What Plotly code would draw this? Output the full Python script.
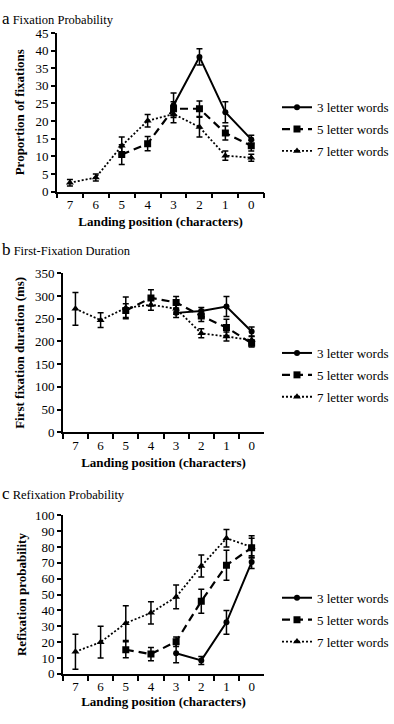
import plotly.graph_objects as go

# ---------------- data ----------------
categories = ["7", "6", "5", "4", "3", "2", "1", "0"]
series_names = ["3 letter words", "5 letter words", "7 letter words"]

x3 = ["3", "2", "1", "0"]
x5 = ["5", "4", "3", "2", "1", "0"]
x7 = ["7", "6", "5", "4", "3", "2", "1", "0"]

# Panel a: Fixation probability (%)
fix_3 = [24.5, 38.2, 22.5, 14.8]
fix_3_err = [3.5, 2.3, 3.0, 1.2]
fix_5 = [10.5, 13.6, 23.5, 23.5, 16.6, 13.0]
fix_5_err = [2.8, 2.0, 2.0, 2.2, 2.0, 1.5]
fix_7 = [2.5, 4.0, 13.0, 20.1, 22.0, 18.3, 10.2, 9.6]
fix_7_err = [0.9, 1.0, 2.5, 1.8, 2.5, 2.8, 1.3, 1.0]

# Panel b: First-fixation duration (ms)
ffd_3 = [263, 267, 277, 222]
ffd_3_err = [10, 8, 22, 10]
ffd_5 = [268, 296, 286, 256, 231, 196]
ffd_5_err = [15, 18, 13, 12, 18, 8]
ffd_7 = [272, 247, 274, 281, 272, 218, 211, 203]
ffd_7_err = [36, 16, 24, 12, 12, 10, 10, 8]

# Panel c: Refixation probability (%)
ref_3 = [13.0, 8.5, 32.5, 70.5]
ref_3_err = [6, 2.5, 7.5, 4]
ref_5 = [15.2, 12.5, 20.3, 45.8, 68.5, 79.5]
ref_5_err = [5, 4.2, 3, 7.5, 9.5, 6]
ref_7 = [14, 20, 32, 38.5, 48.5, 68, 85.5, 80]
ref_7_err = [11, 10, 11, 7, 7.5, 7, 5.5, 7]

panel_titles = ["Fixation Probability", "First-Fixation Duration", "Refixation Probability"]
panel_letters = ["a", "b", "c"]
y_titles = ["Proportion of fixations", "First fixation duration (ms)", "Refixation probability"]
x_title = "Landing position (characters)"
y_ranges = [[0, 45], [0, 350], [0, 100]]
y_dticks = [5, 50, 10]

# ---------------- layout constants ----------------
W, H = 394, 724
FONT = "Liberation Serif"

def px_x(p):
    return p / W

def px_y(p):
    return (H - p) / H

# plot-area pixel boxes: (left, right, top, bottom)
boxes = [(58, 269, 26.5, 188.5), (64, 269, 272, 434.3), (64, 269, 519, 681)]
legend_tops = [87, 338, 588]
title_ys = [12, 248, 497]
y_standoffs = [8, 7, 5]
x_standoffs = [6, 6, 1]

styles = [
    dict(dash="solid", width=2, symbol="circle", size=6),
    dict(dash="8px,5px", width=2.2, symbol="square", size=7),
    dict(dash="2px,2px", width=1.8, symbol="triangle-up", size=7),
]

panels = [
    [(x3, fix_3, fix_3_err), (x5, fix_5, fix_5_err), (x7, fix_7, fix_7_err)],
    [(x3, ffd_3, ffd_3_err), (x5, ffd_5, ffd_5_err), (x7, ffd_7, ffd_7_err)],
    [(x3, ref_3, ref_3_err), (x5, ref_5, ref_5_err), (x7, ref_7, ref_7_err)],
]

fig = go.Figure()
layout = dict(
    width=W, height=H,
    margin=dict(l=0, r=0, t=0, b=0),
    paper_bgcolor="white", plot_bgcolor="white",
    font=dict(family=FONT, size=13, color="black"),
    annotations=[],
)

for i, series in enumerate(panels):
    n = "" if i == 0 else str(i + 1)
    xa, ya = "x" + n, "y" + n
    leg = "legend" + n
    for j, (xs, ys, es) in enumerate(series):
        st = styles[j]
        fig.add_trace(go.Scatter(
            x=xs, y=ys, name=series_names[j],
            xaxis=xa, yaxis=ya, legend=leg, legendgroup=f"g{i}{j}",
            mode="lines+markers",
            line=dict(color="black", width=st["width"], dash=st["dash"]),
            marker=dict(color="black", symbol=st["symbol"], size=st["size"]),
            error_y=dict(type="data", array=es, visible=True, color="black",
                         thickness=1.5, width=3),
        ))
    l, r, t, b = boxes[i]
    layout["xaxis" + n] = dict(
        domain=[px_x(l), px_x(r)], anchor=ya,
        type="category", categoryorder="array", categoryarray=categories,
        range=[-0.5, 7.5], tickson="boundaries",
        showline=True, linecolor="black", linewidth=1.5,
        ticks="outside", ticklen=5, tickwidth=1.5, tickcolor="black",
        showgrid=False, zeroline=False,
        tickfont=dict(size=13, family=FONT),
        title=dict(text="<b>" + x_title + "</b>", font=dict(size=13, family=FONT),
                   standoff=x_standoffs[i]),
    )
    layout["yaxis" + n] = dict(
        domain=[px_y(b), px_y(t)], anchor=xa,
        range=y_ranges[i], dtick=y_dticks[i],
        showline=True, linecolor="black", linewidth=1.5,
        ticks="outside", ticklen=4, tickwidth=1.5, tickcolor="black",
        showgrid=False, zeroline=False,
        tickfont=dict(size=13, family=FONT),
        title=dict(text="<b>" + y_titles[i] + "</b>", font=dict(size=13, family=FONT),
                   standoff=y_standoffs[i]),
    )
    layout[leg] = dict(
        x=px_x(282), y=px_y(legend_tops[i]), xanchor="left", yanchor="top",
        font=dict(size=13, family=FONT), bgcolor="rgba(0,0,0,0)",
        tracegroupgap=2, itemwidth=30,
    )
    layout["annotations"].append(dict(
        xref="paper", yref="paper", x=0, y=px_y(title_ys[i]),
        xanchor="left", yanchor="middle", showarrow=False,
        text=f"<span style='font-size:17px'>{panel_letters[i]}</span> {panel_titles[i]}",
        font=dict(size=12.5, family=FONT),
    ))

fig.update_layout(**layout)
fig.write_html("out.html", config={"displayModeBar": False},
               post_script="document.body.style.margin='0';")
